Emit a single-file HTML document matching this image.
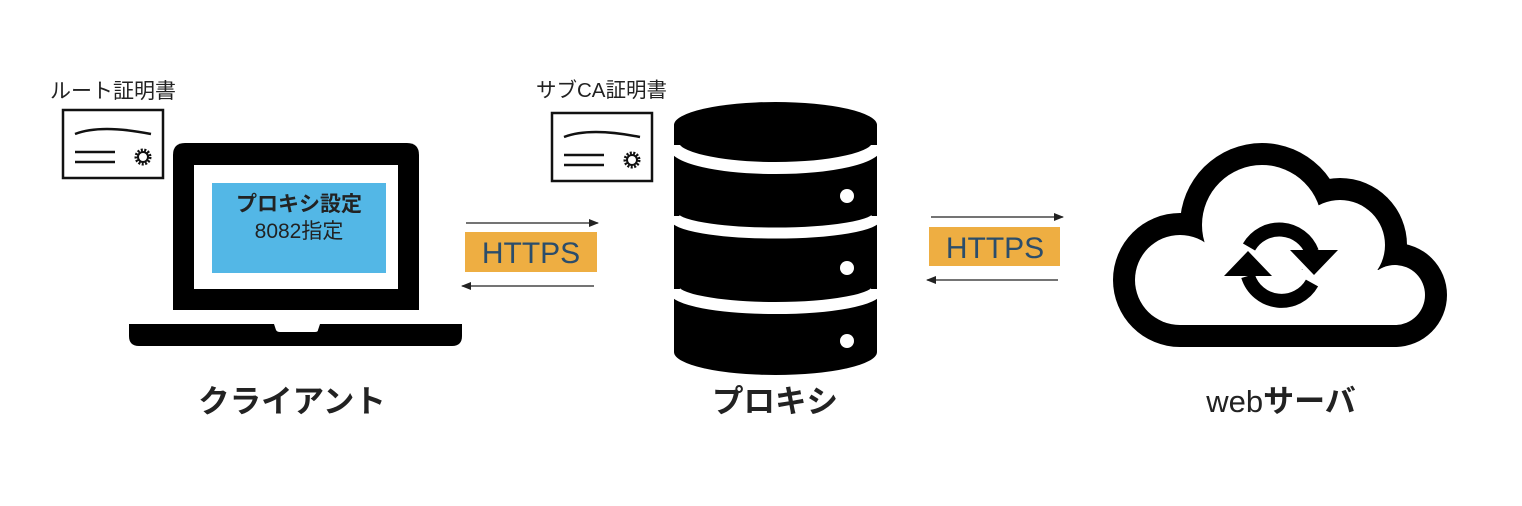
<!DOCTYPE html>
<html><head><meta charset="utf-8"><style>
html,body{margin:0;padding:0;background:#fff;}
svg{display:block;}
text{font-family:"Liberation Sans","Noto Sans CJK JP",sans-serif;}
</style></head><body>
<svg width="1522" height="506" viewBox="0 0 1522 506" xmlns="http://www.w3.org/2000/svg">
<defs>
<marker id="ah" markerWidth="10" markerHeight="8" refX="9" refY="4" orient="auto" markerUnits="userSpaceOnUse">
<path d="M0,0 L10,4 L0,8 Z" fill="#222"/></marker>
<g id="cert">
<rect x="0" y="0" width="100" height="68" fill="#fff" stroke="#111" stroke-width="2.5"/>
<path d="M12,24 Q38,14 88,24" fill="none" stroke="#111" stroke-width="2.5"/>
<line x1="12" y1="42" x2="52" y2="42" stroke="#111" stroke-width="2.5"/>
<line x1="12" y1="52" x2="52" y2="52" stroke="#111" stroke-width="2.5"/>
<circle cx="80" cy="47" r="7" fill="#fff" stroke="#111" stroke-width="3" stroke-dasharray="2 1.4"/>
<circle cx="80" cy="47" r="5" fill="#fff" stroke="#111" stroke-width="2"/>
</g>
</defs>

<text x="50" y="98" font-size="21" fill="#222">ルート証明書</text>
<use href="#cert" x="63" y="110"/>

<path d="M173,155 Q173,143 185,143 L407,143 Q419,143 419,155 L419,310 L173,310 Z" fill="#000"/>
<rect x="194" y="165" width="204" height="124" fill="#fff"/>
<rect x="212" y="183" width="174" height="90" fill="#53b7e6"/>
<text x="299" y="211" font-size="21" font-weight="bold" fill="#222" text-anchor="middle">プロキシ設定</text>
<text x="299" y="238" font-size="21" fill="#222" text-anchor="middle">8082指定</text>
<path d="M129,324 L274,324 L276,330 Q277,332 280,332 L315,332 Q318,332 318,330 L320,324 L462,324 L462,336 Q462,346 452,346 L139,346 Q129,346 129,336 Z" fill="#000"/>
<text x="292" y="412" font-size="31.5" font-weight="bold" fill="#222" text-anchor="middle">クライアント</text>

<line x1="466" y1="223" x2="598" y2="223" stroke="#222" stroke-width="1.3" marker-end="url(#ah)"/>
<rect x="465" y="232" width="132" height="40" fill="#eeae42"/>
<text x="531" y="263" font-size="30" fill="#2b4d6b" text-anchor="middle">HTTPS</text>
<line x1="594" y1="286" x2="462" y2="286" stroke="#222" stroke-width="1.3" marker-end="url(#ah)"/>

<text x="536" y="97" font-size="20.5" fill="#222">サブCA証明書</text>
<use href="#cert" x="552" y="113"/>

<path d="M674,125 A101.5,23 0 0 1 877,125 L877,352 A101.5,23 0 0 1 674,352 Z" fill="#000"/>
<path d="M674,145 A101.5,23 0 0 0 877,145" fill="none" stroke="#fff" stroke-width="12"/>
<path d="M674,216 A101.5,17 0 0 0 877,216" fill="none" stroke="#fff" stroke-width="11"/>
<path d="M674,289 A101.5,19 0 0 0 877,289" fill="none" stroke="#fff" stroke-width="12"/>
<circle cx="847" cy="196" r="7" fill="#fff"/>
<circle cx="847" cy="268" r="7" fill="#fff"/>
<circle cx="847" cy="341" r="7" fill="#fff"/>
<text x="775" y="412" font-size="31.5" font-weight="bold" fill="#222" text-anchor="middle">プロキシ</text>

<line x1="931" y1="217" x2="1063" y2="217" stroke="#222" stroke-width="1.3" marker-end="url(#ah)"/>
<rect x="929" y="227" width="131" height="39" fill="#eeae42"/>
<text x="995" y="258" font-size="30" fill="#2b4d6b" text-anchor="middle">HTTPS</text>
<line x1="1058" y1="280" x2="927" y2="280" stroke="#222" stroke-width="1.3" marker-end="url(#ah)"/>

<g fill="#000">
<circle cx="1180" cy="280" r="67"/>
<circle cx="1262" cy="225" r="82"/>
<circle cx="1340" cy="245" r="67"/>
<circle cx="1395" cy="295" r="52"/>
<rect x="1180" y="300" width="215" height="47"/>
</g>
<g fill="#fff">
<circle cx="1180" cy="280" r="45"/>
<circle cx="1262" cy="225" r="60"/>
<circle cx="1340" cy="245" r="45"/>
<circle cx="1395" cy="295" r="30"/>
<rect x="1180" y="270" width="215" height="55"/>
</g>
<path d="M1249,247 A35,35 0 0 1 1312,252" fill="none" stroke="#000" stroke-width="14"/>
<path d="M1290,250 L1338,250 L1314,275 Z" fill="#000"/>
<path d="M1312,283 A35,35 0 0 1 1248,276" fill="none" stroke="#000" stroke-width="14"/>
<path d="M1224,276 L1272,276 L1248,251 Z" fill="#000"/>

<text x="1281" y="412" font-size="31" fill="#222" text-anchor="middle"><tspan>web</tspan><tspan font-weight="bold">サーバ</tspan></text>
</svg>
</body></html>
